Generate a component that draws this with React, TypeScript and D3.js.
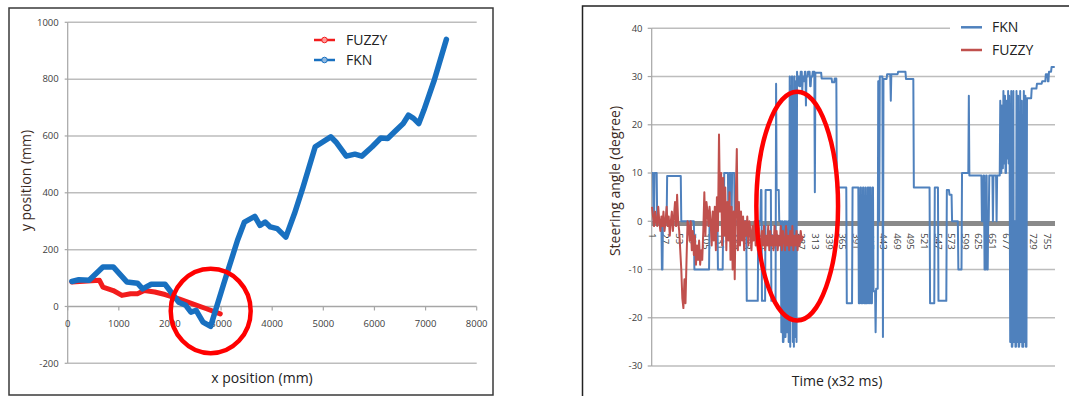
import React from "react";
import * as d3 from "d3";

// ---------- Left chart data (x position mm, y position mm) ----------
const posXTicks = [0, 1000, 2000, 3000, 4000, 5000, 6000, 7000, 8000];
const posYTicks = [-200, 0, 200, 400, 600, 800, 1000];

const fuzzyPosX = [81, 621, 689, 891, 1060, 1229, 1364, 1499, 1702, 1904, 2174, 2444, 2714, 2984];
const fuzzyPosY = [86, 92, 68, 56, 39, 45, 45, 56, 51, 42, 27, 9, -8, -26];

const fknPosX = [81, 216, 419, 689, 891, 1161, 1364, 1465, 1634, 1904, 2174, 2309, 2410, 2512, 2647, 2795, 3052, 3322, 3457, 3660, 3761, 3862, 3963, 4098, 4267, 4436, 4605, 4841, 5145, 5246, 5449, 5618, 5753, 5955, 6124, 6259, 6394, 6563, 6664, 6765, 6867, 6968, 7171, 7407];
const fknPosY = [88, 94, 92, 139, 139, 86, 82, 62, 78, 78, 15, 4, -20, -14, -55, -70, 80, 233, 297, 317, 285, 297, 280, 274, 244, 327, 421, 562, 597, 579, 529, 536, 529, 562, 593, 591, 615, 644, 673, 662, 644, 691, 797, 940];

// ---------- Right chart data (steering angle, degree) ----------
const angleTicks = [-30, -20, -10, 0, 10, 20, 30, 40];
const timeTickLabels = [1, 27, 53, 79, 105, 131, 157, 183, 209, 235, 261, 287, 313, 339, 365, 391, 417, 443, 469, 495, 521, 547, 573, 599, 625, 651, 677, 703, 729, 755];

// FKN steering angle as runs of [value, number of samples]
const fknRuns: [number, number][] = [
  [10, 3], [0, 2], [10, 5], [0, 9], [-10, 2], [0, 8], [9.4, 27], [0, 25], [-10, 29], [0, 16],
  [-10, 10], [0, 2], [10, 8], [0, 2], [10, 4], [0, 1], [10, 5], [0, 23], [-16.5, 22], [0, 5],
  [6.5, 2], [-16.5, 7], [6.5, 11], [-16.5, 9], [28.5, 1], [6.5, 5], [0, 4],
  [-23, 2], [0, 1], [-25, 2], [-22, 1], [0, 1], [-24, 2], [0, 1], [-23, 2], [-20, 1], [0, 1], [-25, 2],
  [30, 1], [-26, 1], [28, 1], [-20, 1], [30, 2], [-25, 1], [27, 1], [-26, 1], [30, 1], [0, 1], [-24, 1], [29, 1], [-25, 1], [31, 1], [28, 1],
  [30, 3], [28, 2], [31, 3], [27, 1], [30, 2], [29, 2], [31, 2], [24, 1], [30, 3], [31, 4], [28, 2], [30, 3], [31, 4],
  [6, 1], [30.8, 12], [29.6, 16], [29.6, 4], [28.8, 5], [29.6, 4],
  [7, 19], [-17, 11], [7, 12],
  [-17, 3], [7, 2], [-17, 3], [7, 2], [-17, 3], [7, 1], [-17, 3], [7, 2], [-17, 2], [7, 2], [-17, 3], [7, 2],
  [-14.5, 4], [-23, 1], [-14, 4], [29, 2], [0, 1], [30, 6], [-24, 1], [29.5, 7], [30.5, 7], [25, 1], [30.5, 13], [31, 15], [29.5, 15],
  [7, 31], [-17, 9], [7, 7], [-16.5, 16], [6.5, 5], [5.5, 5], [0, 12], [-10, 7], [10, 13], [26, 1], [9.5, 24],
  [0, 3], [9.5, 2], [-10, 3], [9.5, 2], [-10, 2], [0, 2], [9.5, 2],
  [9.5, 5], [0, 1], [9.5, 6], [0, 1], [9.5, 6],
  [25, 1], [10, 2], [24, 1], [11, 2], [27, 1], [12, 2], [26, 1], [10, 2], [25, 1], [13, 2], [27, 1], [12, 1], [26, 1], [10, 1],
  [-25, 2], [27, 1], [-26, 2], [-24, 1], [27, 1], [-25, 2], [0, 1], [-26, 2], [27, 1], [-25, 2], [26, 1], [-26, 2], [-24, 1], [27, 1], [-25, 2], [25, 1], [-26, 3], [27, 1], [-25, 2], [26, 1], [-26, 2],
  [25.5, 9], [27.5, 10], [28.5, 10], [29, 7], [30.5, 4], [29, 2], [31, 5], [32, 7],
];

// FUZZY steering angle, sampled every second time step starting at 1
const fuzzyAngle = [
  3, 1, -1, 2, 0, -1, 3, 0, -2, 1, -1, 2, -2, 0, 3, -1, 1, -3, 0, 2,
  -2, 1, 4, -1, 5.5, 0, -2, -6, -10, -16, -18, -12, -17, -8, 0, -1, -4, 0, -6, -2,
  -7, -3, -9, -5, -8, -4, -9, -6, -8, -2, 6, -3, 4, 2, -1, 3, 0, -5, 2, -4,
  3, -6, 5, -2, 18, 2, 10, -5, 9, -3, 7, -6, 4, -4, 6, -8, 3, -10, 2, -12,
  5, 15, -6, 4, -5, 2, -4, 1, -6, 0, -3, 1, -5, 0, -2, -6, -1, -4, 0, -5,
  -2, -6, -1, -4, -6, -2, -5, -1, -6, -3, -5, -1, -6, -2, -5, -3, -6, -1, -5, -2,
  -6, -3, -5, -1, -6, -2, -4, -6, -1, -5, -3, -6, -2, -5, -1, -6, -3, -5, -2, -6,
  -3, -5, -2, -4, -3,
];

const FONT = "'Open Sans', 'Noto Sans', sans-serif";

function LeftChart() {
  const x = d3.scaleLinear().domain([0, 8000]).range([67.7, 476.7]);
  const y = d3.scaleLinear().domain([-200, 1000]).range([363.3, 22.3]);
  const line = d3
    .line<[number, number]>()
    .x((d) => x(d[0]))
    .y((d) => y(d[1]))
    .curve(d3.curveLinear);
  const fuzzy = fuzzyPosX.map((v, i) => [v, fuzzyPosY[i]] as [number, number]);
  const fkn = fknPosX.map((v, i) => [v, fknPosY[i]] as [number, number]);
  const red = "#f21c1c";
  const blue = "#1870c0";
  return (
    <g>
      <rect x={9} y={8} width={484} height={387} fill="#fff" stroke="#3a3a3a" strokeWidth={1.5} />
      {posYTicks.filter((t) => t !== 0).map((t) => (
        <line key={t} x1={x(0)} x2={x(8000)} y1={y(t)} y2={y(t)} stroke="#bdbdbd" strokeWidth={1.5} />
      ))}
      <line x1={x(0)} x2={x(0)} y1={y(1000)} y2={y(-200)} stroke="#a6a6a6" strokeWidth={1.2} />
      <line x1={x(0)} x2={x(8000)} y1={y(0)} y2={y(0)} stroke="#a6a6a6" strokeWidth={1.5} />
      {posXTicks.map((t) => (
        <g key={t}>
          <line x1={x(t)} x2={x(t)} y1={y(0)} y2={y(0) + 4} stroke="#a6a6a6" strokeWidth={1.2} />
          <text x={x(t)} y={y(0) + 21} textAnchor="middle" fontSize={9.5} fill="#404040" fontFamily={FONT}>
            {t}
          </text>
        </g>
      ))}
      {posYTicks.map((t) => (
        <g key={t}>
          <line x1={x(0) - 3} x2={x(0)} y1={y(t)} y2={y(t)} stroke="#a6a6a6" strokeWidth={1.2} />
          <text x={x(0) - 9} y={y(t)} dy="0.35em" textAnchor="end" fontSize={9.5} fill="#404040" fontFamily={FONT}>
            {t}
          </text>
        </g>
      ))}
      <path d={line(fuzzy) ?? ""} fill="none" stroke={red} strokeWidth={5} strokeLinejoin="round" strokeLinecap="round" />
      <path d={line(fkn) ?? ""} fill="none" stroke={blue} strokeWidth={5.5} strokeLinejoin="round" strokeLinecap="round" />
      {/* annotation circle */}
      <ellipse
        cx={x(2797)}
        cy={y(-15.8)}
        rx={x(782) - x(0)}
        ry={y(0) - y(148.6)}
        fill="none"
        stroke="#ff0000"
        strokeWidth={4.5}
      />
      {/* legend */}
      {[
        { name: "FUZZY", color: red, fill: "#ff9a9a", yy: 40 },
        { name: "FKN", color: blue, fill: "#8fb8e0", yy: 60 },
      ].map((s) => (
        <g key={s.name}>
          <line x1={314} x2={335} y1={s.yy} y2={s.yy} stroke={s.color} strokeWidth={2.5} />
          <circle cx={324.5} cy={s.yy} r={2.8} fill={s.fill} stroke={s.color} strokeWidth={1} />
          <text x={346} y={s.yy} dy="0.36em" fontSize={14} fill="#222" fontFamily={FONT}>
            {s.name}
          </text>
        </g>
      ))}
      <text x={262} y={383} textAnchor="middle" fontSize={14} fill="#222" fontFamily={FONT}>
        x position (mm)
      </text>
      <text
        transform={`translate(31,180.5) rotate(-90)`}
        textAnchor="middle"
        fontSize={14}
        fill="#3b2a1e"
        fontFamily={FONT}
      >
        y position (mm)
      </text>
    </g>
  );
}

function RightChart() {
  const fknValues: number[] = [];
  fknRuns.forEach(([v, n]) => {
    for (let k = 0; k < n; k++) fknValues.push(v);
  });
  const N = fknValues.length;
  const x = d3.scaleLinear().domain([0.5, N + 0.5]).range([651.7, 1055]);
  const y = d3.scaleLinear().domain([-30, 40]).range([366, 28.3]);
  const line = d3
    .line<[number, number]>()
    .x((d) => x(d[0]))
    .y((d) => y(d[1]));
  const fkn = fknValues.map((v, i) => [i + 1, v] as [number, number]);
  const fuzzy = fuzzyAngle.map((v, i) => [1 + i * 2, v] as [number, number]);
  const blue = "#4f81bd";
  const red = "#c0504d";
  return (
    <g>
      <rect x={582.5} y={6} width={520} height={420} fill="#fff" stroke="#222" strokeWidth={1.5} />
      {angleTicks.filter((t) => t !== 0).map((t) => (
        <line key={t} x1={x(0.5)} x2={t === 40 ? 950 : x(N + 0.5)} y1={y(t)} y2={y(t)} stroke="#bdbdbd" strokeWidth={1.5} />
      ))}
      <line x1={x(0.5)} x2={x(0.5)} y1={y(40)} y2={y(-30)} stroke="#a6a6a6" strokeWidth={1.2} />
      {angleTicks.map((t) => (
        <g key={t}>
          <line x1={x(0.5) - 4} x2={x(0.5)} y1={y(t)} y2={y(t)} stroke="#a6a6a6" strokeWidth={1.2} />
          <text x={642.5} y={y(t)} dy="0.35em" textAnchor="end" fontSize={9.5} fill="#404040" fontFamily={FONT}>
            {t}
          </text>
        </g>
      ))}
      <line x1={x(0.5)} x2={x(N + 0.5)} y1={y(0) + 2.2} y2={y(0) + 2.2} stroke="#8a8a8a" strokeWidth={5} />
      {timeTickLabels.map((t) => (
        <text
          key={t}
          transform={`translate(${x(t)},${y(0) + 12}) rotate(90)`}
          dy="0.35em"
          textAnchor="start"
          fontSize={9.5}
          fill="#404040"
          fontFamily={FONT}
        >
          {t}
        </text>
      ))}
      <path d={line(fkn) ?? ""} fill="none" stroke={blue} strokeWidth={2} strokeLinejoin="round" />
      <path d={line(fuzzy) ?? ""} fill="none" stroke={red} strokeWidth={2} strokeLinejoin="round" />
      <ellipse
        cx={x(278.3)}
        cy={y(3.15)}
        rx={x(78) - x(0)}
        ry={y(0) - y(23.7)}
        fill="none"
        stroke="#ff0000"
        strokeWidth={4.5}
      />
      {/* legend */}
      {[
        { name: "FKN", color: blue, yy: 27.3 },
        { name: "FUZZY", color: red, yy: 50 },
      ].map((s) => (
        <g key={s.name}>
          <line x1={961} x2={982} y1={s.yy} y2={s.yy} stroke={s.color} strokeWidth={2.5} />
          <text x={992} y={s.yy} dy="0.36em" fontSize={14} fill="#222" fontFamily={FONT}>
            {s.name}
          </text>
        </g>
      ))}
      <text x={837} y={386} textAnchor="middle" fontSize={14} fill="#222" fontFamily={FONT}>
        Time (x32 ms)
      </text>
      <text
        transform={`translate(620,181) rotate(-90)`}
        textAnchor="middle"
        fontSize={14}
        fill="#3b2a1e"
        fontFamily={FONT}
      >
        Steering angle (degree)
      </text>
    </g>
  );
}

export default function App() {
  return (
    <svg
      width={1069}
      height={396}
      viewBox="0 0 1069 396"
      style={{ position: "absolute", left: 0, top: 0, display: "block", background: "#fff" }}
    >
      <rect x={0} y={0} width={1069} height={396} fill="#fff" />
      <LeftChart />
      <RightChart />
    </svg>
  );
}
